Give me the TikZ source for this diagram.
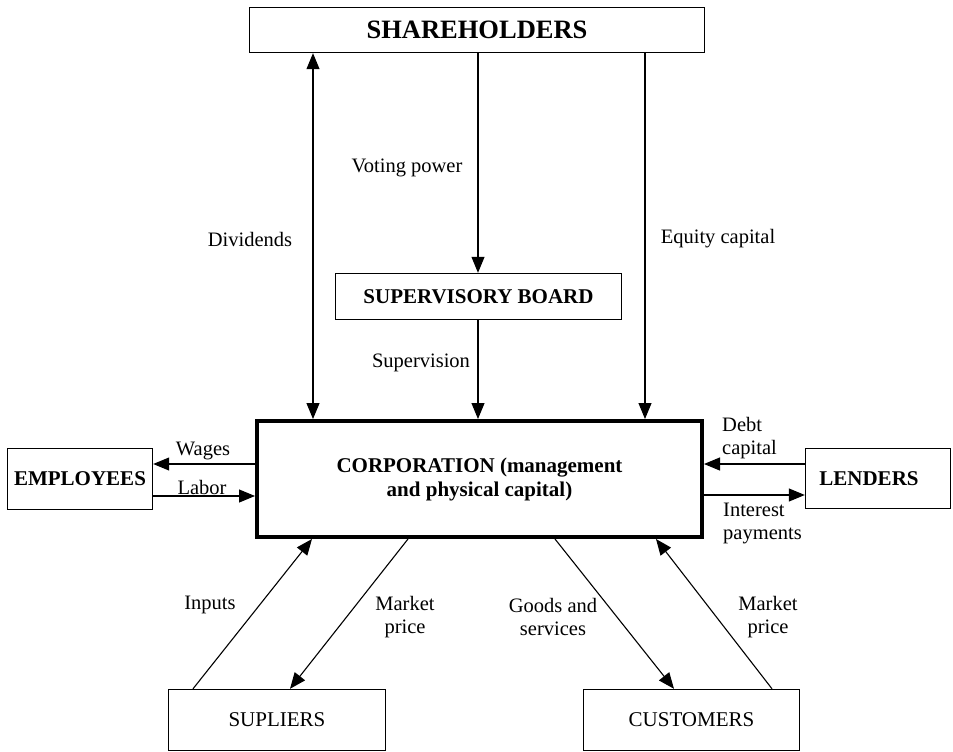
\documentclass[tikz,border=0pt]{standalone}
\usepackage{fontspec}
\setmainfont{Liberation Serif}
\usetikzlibrary{arrows.meta}
\begin{document}
\begin{tikzpicture}[x=1pt,y=-1pt,
  box/.style={draw, line width=1.4pt, inner sep=0pt, align=center, font=\fontsize{21}{24}\selectfont},
  bbox/.style={box, font=\fontsize{21}{24}\selectfont\bfseries},
  lbl/.style={inner sep=0pt, align=center, font=\fontsize{20.5}{23}\selectfont},
  tip/.style={Triangle[length=16pt,width=13pt]},
  conn/.style={line width=1.1pt, -{Triangle[length=16pt,width=13pt]}},
  dconn/.style={line width=1.1pt, {Triangle[length=16pt,width=13pt]}-{Triangle[length=16pt,width=13pt]}}]
\useasboundingbox (0,0) rectangle (953,752);
\fill[white] (0,0) rectangle (953,752);

% boxes
\node[bbox, minimum width=455pt, minimum height=45pt, font=\fontsize{26.5}{30}\selectfont\bfseries] (sh) at (477,30) {SHAREHOLDERS};
\node[bbox, minimum width=286pt, minimum height=46pt] (sb) at (478.5,296.5) {SUPERVISORY BOARD};
\node[bbox, line width=4pt, minimum width=445pt, minimum height=116pt] (corp) at (479.5,479) {CORPORATION (management\\and physical capital)};
\node[bbox, minimum width=145pt, minimum height=61pt] (emp) at (80,479) {EMPLOYEES};
\node[bbox, minimum width=145pt, minimum height=60pt] (lend) at (878,478.5) {\hspace*{-18pt}LENDERS};
\node[box, minimum width=217pt, minimum height=61pt] (sup) at (277,720) {SUPLIERS};
\node[box, minimum width=216pt, minimum height=61pt] (cust) at (691.5,720) {CUSTOMERS};

% vertical connectors
\draw[dconn] (sh.south -| 313,0) -- (corp.north -| 313,0);
\draw[conn] (sh.south -| 478,0) -- (sb.north -| 478,0);
\draw[conn] (sh.south -| 645,0) -- (corp.north -| 645,0);
\draw[conn] (sb.south -| 478,0) -- (corp.north -| 478,0);

% horizontal connectors
\draw[conn] (corp.west |- 0,464) -- (emp.east |- 0,464);
\draw[conn] (emp.east |- 0,496) -- (corp.west |- 0,496);
\draw[conn] (lend.west |- 0,464) -- (corp.east |- 0,464);
\draw[conn] (corp.east |- 0,495) -- (lend.west |- 0,495);

% diagonal connectors
\draw[conn] (sup.north -| 193,0) -- (corp.south -| 312,0);
\draw[conn] (corp.south -| 408,0) -- (sup.north -| 290,0);
\draw[conn] (corp.south -| 555,0) -- (cust.north -| 674,0);
\draw[conn] (cust.north -| 772,0) -- (corp.south -| 656,0);

% labels
\node[lbl] (lvote) at (407,168) {Voting power};
\node[lbl] (ldiv) at (250,239) {Dividends};
\node[lbl] (leq) at (718,239) {Equity capital};
\node[lbl] (lsup) at (421,363) {Supervision};
\node[lbl] (lwage) at (203,451) {Wages};
\node[lbl] (llab) at (202,487) {Labor};
\node[lbl, align=left, anchor=west] (ldebt) at (722,438) {Debt\\capital};
\node[lbl, align=left, anchor=west] (lint) at (723,523) {Interest\\payments};
\node[lbl] (linp) at (210,605) {Inputs};
\node[lbl] (lmps) at (405,617) {Market\\price};
\node[lbl] (lgood) at (553,617) {Goods and\\services};
\node[lbl] (lmpc) at (768,617) {Market\\price};
\end{tikzpicture}
\end{document}
